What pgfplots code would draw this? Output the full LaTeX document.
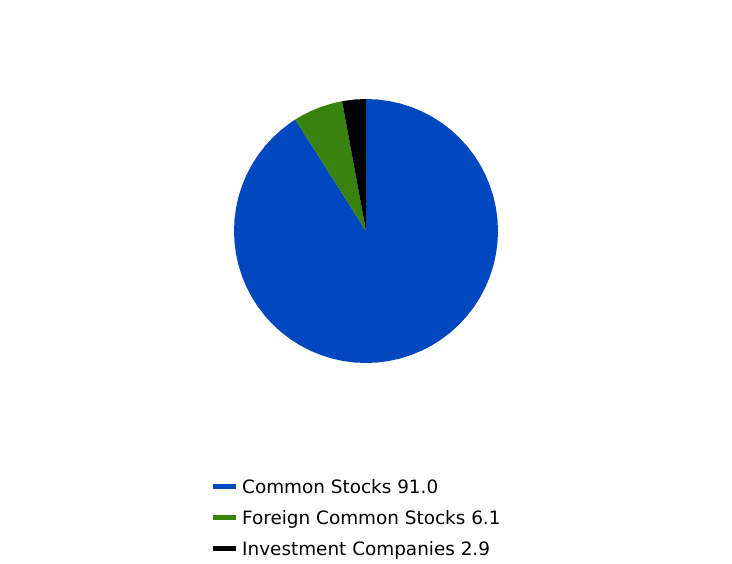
\documentclass[border=0pt]{standalone}
\usepackage{pgfplots}
\pgfplotsset{compat=1.18}
\usepackage{fontspec}
\setmainfont{DejaVu Sans}
\definecolor{stockblue}{HTML}{0047C0}
\definecolor{foreigngreen}{HTML}{38820E}
\begin{document}
\begin{tikzpicture}
\useasboundingbox (0pt,0pt) rectangle (732pt,564pt);
\begin{axis}[
    at={(366pt,333pt)}, anchor=center,
    width=264pt, height=264pt, scale only axis,
    xmin=-1, xmax=1, ymin=-1, ymax=1,
    hide axis,
    clip=false,
    legend style={
        at={(-0.0795,-0.4243)}, anchor=north west,
        draw=none, fill=none, inner sep=0pt,
        font=\fontsize{18.4pt}{22pt}\selectfont,
        row sep=9pt,
        nodes={inner sep=0pt, text height=18pt, text depth=4pt, anchor=west},
    },
    legend cell align=left,
    legend image code/.code={
        \fill[#1] (0pt,-2.5pt) rectangle (23pt,2.5pt);
        \path (29pt,0pt);
    },
]
% slices: (angle in degrees, radius), clockwise from the top
\addplot[fill=stockblue, draw=none, data cs=polar] coordinates {
    (0,0) (90,1) (85,1) (80,1) (75,1) (70,1) (65,1) (60,1) (55,1) (50,1)
    (45,1) (40,1) (35,1) (30,1) (25,1) (20,1) (15,1) (10,1) (5,1) (0,1)
    (-5,1) (-10,1) (-15,1) (-20,1) (-25,1) (-30,1) (-35,1) (-40,1) (-45,1)
    (-50,1) (-55,1) (-60,1) (-65,1) (-70,1) (-75,1) (-80,1) (-85,1) (-90,1)
    (-95,1) (-100,1) (-105,1) (-110,1) (-115,1) (-120,1) (-125,1) (-130,1)
    (-135,1) (-140,1) (-145,1) (-150,1) (-155,1) (-160,1) (-165,1) (-170,1)
    (-175,1) (-180,1) (-185,1) (-190,1) (-195,1) (-200,1) (-205,1) (-210,1)
    (-215,1) (-220,1) (-225,1) (-230,1) (-235,1) (-237.6,1) (0,0)
} \closedcycle;
\addlegendentry{Common Stocks 91.0}
\addplot[fill=foreigngreen, draw=none, data cs=polar] coordinates {
    (0,0) (-237.6,1) (-240,1) (-245,1) (-250,1) (-255,1) (-259.56,1) (0,0)
};
\addlegendentry{Foreign Common Stocks 6.1}
\addplot[fill=black, draw=none, data cs=polar] coordinates {
    (0,0) (-259.56,1) (-265,1) (-270,1) (0,0)
};
\addlegendentry{Investment Companies 2.9}
\end{axis}
\end{tikzpicture}
\end{document}
